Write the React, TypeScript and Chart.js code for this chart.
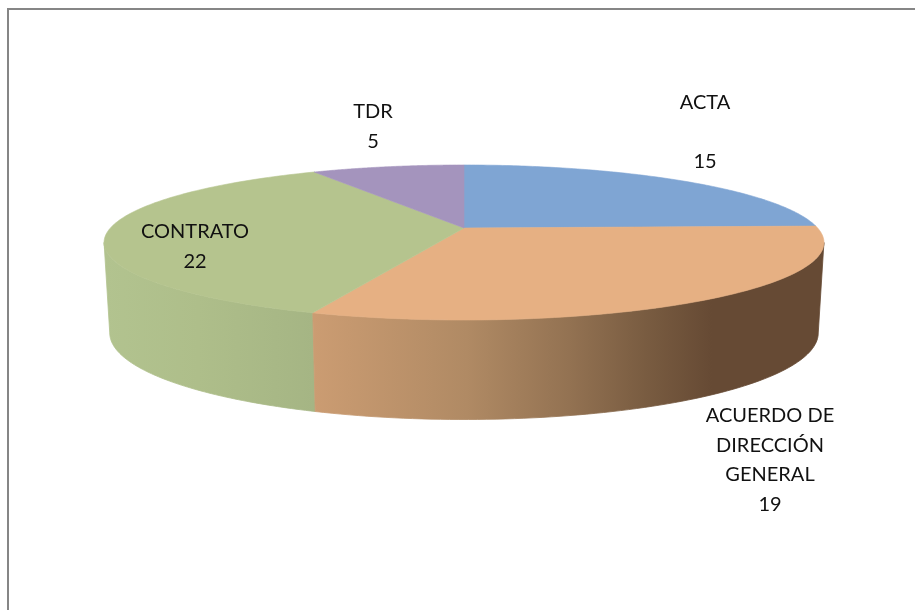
import React, { useEffect, useRef } from "react";
import { Chart, registerables } from "chart.js";

Chart.register(...registerables);

const categories = ["ACTA", "ACUERDO DE DIRECCIÓN GENERAL", "CONTRATO", "TDR"];
const seriesValues = [15, 19, 22, 5];
const topColors = ["#7fa5d3", "#e6b083", "#b5c48e", "#a494bd"];

const labelLines = [
  ["ACTA", "", "15"],
  ["ACUERDO DE", "DIRECCIÓN", "GENERAL", "19"],
  ["CONTRATO", "22"],
  ["TDR", "5"],
];

const FONT = '20px Lato, "Open Sans", sans-serif';
// perspective model of the disc
const CX = 464;
const K = 0.187;
const TOP = { rx: 353.6, ry: 74.8, cy: 228 };
const BOTTOM = { rx: 348, ry: 83.5, cy: 316.8 };
const SILHOUETTE = Math.asin(K);

const labelPlacement = [
  { x: 705, y: 103, step: 29.5 },
  { x: 770, y: 416, step: 29.5 },
  { x: 195, y: 232, step: 29.5 },
  { x: 373, y: 112, step: 30 },
];

const wallGradients: ([number, string][] | null)[] = [
  null,
  [[0, "#cb9c72"], [0.3, "#b08a64"], [0.5, "#937252"], [0.65, "#795c41"], [0.78, "#664a34"], [1, "#664a34"]],
  [[0, "#b2c38f"], [0.45, "#aebe8a"], [1, "#a5b584"]],
  null,
];
const wallSpans: ([number, number] | null)[] = [null, [314, 824], [104, 314], null];

function project(p: { rx: number; ry: number; cy: number }, a: number, r = 1) {
  const u = Math.cos(a) * r;
  const v = Math.sin(a) * r;
  const w = 1 - K * v;
  return { x: CX + (p.rx * u) / w, y: p.cy + (p.ry * v) / w };
}

const pie3d = {
  id: "pie3d",
  beforeDraw(chart: any) {
    const { ctx, width, height } = chart;
    ctx.save();
    ctx.fillStyle = "#ffffff";
    ctx.fillRect(0, 0, width, height);
    ctx.strokeStyle = "#868686";
    ctx.lineWidth = 2;
    ctx.beginPath();
    ctx.moveTo(8, height);
    ctx.lineTo(8, 9);
    ctx.lineTo(width, 9);
    ctx.stroke();
    ctx.restore();
  },
  beforeDatasetDraw(chart: any) {
    const { ctx } = chart;
    const arcs = chart.getDatasetMeta(0).data;
    ctx.save();
    // side walls, the left one first so the right one closes the seam
    [2, 1].forEach((i: number) => {
      const arc = arcs[i];
      const stops = wallGradients[i];
      const span = wallSpans[i];
      if (!stops || !span) return;
      const a0 = Math.max(arc.startAngle, SILHOUETTE);
      const a1 = Math.min(arc.endAngle, Math.PI - SILHOUETTE);
      if (a1 <= a0) return;
      const g = ctx.createLinearGradient(span[0], 0, span[1], 0);
      stops.forEach(([o, c]) => g.addColorStop(o, c));
      ctx.beginPath();
      const n = 80;
      for (let s = 0; s <= n; s++) {
        const pt = project(TOP, a0 + ((a1 - a0) * s) / n);
        s === 0 ? ctx.moveTo(pt.x, pt.y) : ctx.lineTo(pt.x, pt.y);
      }
      for (let s = n; s >= 0; s--) {
        const pt = project(BOTTOM, a0 + ((a1 - a0) * s) / n);
        ctx.lineTo(pt.x, pt.y);
      }
      ctx.closePath();
      ctx.fillStyle = g;
      ctx.strokeStyle = g;
      ctx.lineWidth = 0.8;
      ctx.fill();
      ctx.stroke();
    });
    // top faces
    arcs.forEach((arc: any, i: number) => {
      const n = 120;
      const c = project(TOP, 0, 0);
      ctx.beginPath();
      ctx.moveTo(c.x, c.y);
      for (let s = 0; s <= n; s++) {
        const pt = project(TOP, arc.startAngle + ((arc.endAngle - arc.startAngle) * s) / n);
        ctx.lineTo(pt.x, pt.y);
      }
      ctx.closePath();
      ctx.fillStyle = topColors[i];
      ctx.strokeStyle = topColors[i];
      ctx.lineWidth = 0.6;
      ctx.fill();
      ctx.stroke();
    });
    ctx.restore();
    return false;
  },
  afterDatasetsDraw(chart: any) {
    const { ctx } = chart;
    ctx.save();
    ctx.font = FONT;
    ctx.fillStyle = "#111111";
    ctx.textAlign = "center";
    ctx.textBaseline = "middle";
    labelLines.forEach((lines, i) => {
      const p = labelPlacement[i];
      lines.forEach((t, j) => {
        if (t) ctx.fillText(t, p.x, p.y + j * p.step);
      });
    });
    ctx.restore();
  },
};

export default function App() {
  const ref = useRef<HTMLCanvasElement>(null);
  useEffect(() => {
    document.body.style.margin = "0";
    const chart = new Chart(ref.current as HTMLCanvasElement, {
      type: "pie",
      data: {
        labels: categories,
        datasets: [{ data: seriesValues, backgroundColor: topColors, borderWidth: 0 }],
      },
      options: {
        responsive: false,
        animation: false,
        rotation: 0,
        plugins: { legend: { display: false }, tooltip: { enabled: false } },
      },
      plugins: [pie3d],
    } as any);
    return () => chart.destroy();
  }, []);
  return <canvas ref={ref} width={915} height={610} style={{ display: "block" }} />;
}
